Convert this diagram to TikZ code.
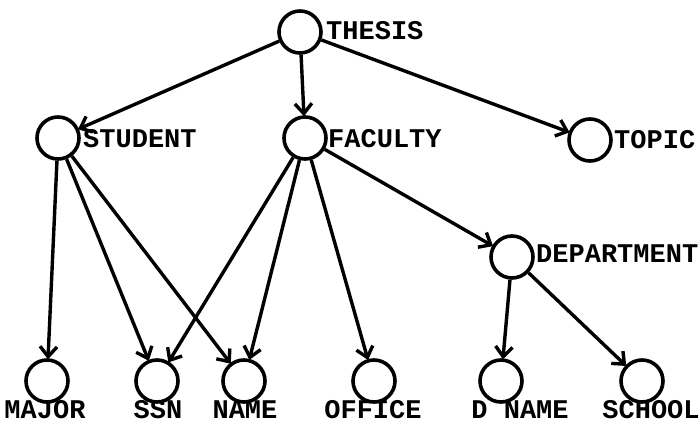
\documentclass[tikz,border=0pt]{standalone}
\usepackage{fontspec}
\setmonofont{Liberation Mono}
\usetikzlibrary{arrows.meta}
\begin{document}
\begin{tikzpicture}[x=1pt,y=-1pt,
  ent/.style={circle,draw,line width=3.6pt,minimum size=42pt,inner sep=0pt},
  lbl/.style={font=\fontsize{27}{30}\selectfont\ttfamily\bfseries,inner sep=0pt},
  rel/.style={line width=3.4pt,shorten >=-1pt,-{Straight Barb[length=10pt,width=17pt,line width=3.4pt]}}]
\useasboundingbox (0,0) rectangle (700,425);
% entity circles
\node[ent] (thesis)  at (300,32)  {};
\node[ent] (student) at (58,138)  {};
\node[ent] (faculty) at (305,138) {};
\node[ent] (topic)   at (590,140) {};
\node[ent] (dept)    at (512,257) {};
\node[ent] (major)   at (47,381)  {};
\node[ent] (ssn)     at (157,381) {};
\node[ent] (name)    at (244,381) {};
\node[ent] (office)  at (374,381) {};
\node[ent] (dname)   at (501,381) {};
\node[ent] (school)  at (642,381) {};
% labels beside the upper circles
\node[lbl,anchor=west] (tThesis)  at (326,31)  {THESIS};
\node[lbl,anchor=west] (tStudent) at (83,139)  {STUDENT};
\node[lbl,anchor=west] (tFaculty) at (328,139) {FACULTY};
\node[lbl,anchor=west] (tTopic)   at (614,140) {TOPIC};
\node[lbl,anchor=west] (tDept)    at (536,254) {DEPARTMENT};
% labels below the lower circles
\node[lbl,anchor=base] (tMajor)  at (45,418)  {MAJOR};
\node[lbl,anchor=base] (tSsn)    at (158,418) {SSN};
\node[lbl,anchor=base] (tName)   at (245,418) {NAME};
\node[lbl,anchor=base] (tOffice) at (373,418) {OFFICE};
\node[lbl,anchor=base] (tDname)  at (520,418) {D NAME};
\node[lbl,anchor=base] (tSchool) at (651,418) {SCHOOL};
% connectors
\draw[rel] (thesis) -- (student);
\draw[rel] (thesis) -- (faculty);
\draw[rel] (thesis) -- (topic);
\draw[rel] (student) -- (major);
\draw[rel] (student) -- (ssn);
\draw[rel] (student) -- (name);
\draw[rel] (faculty) -- (ssn);
\draw[rel] (faculty) -- (name);
\draw[rel] (faculty) -- (office);
\draw[rel] (faculty) -- (dept);
\draw[rel] (dept) -- (dname);
\draw[rel] (dept) -- (school);
\end{tikzpicture}
\end{document}
